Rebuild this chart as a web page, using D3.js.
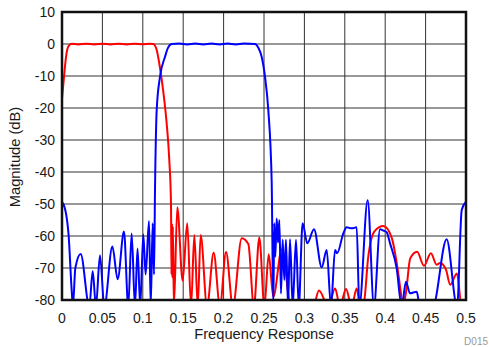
<!DOCTYPE html>
<html>
<head>
<meta charset="utf-8">
<script src="https://cdn.jsdelivr.net/npm/d3@7"></script>
<style>
  body { margin: 0; background: #fff; }
  text { font-family: "Liberation Sans", Arial, sans-serif; }
</style>
</head>
<body>
<script>
// tick values
const xTicks = [0, 0.05, 0.1, 0.15, 0.2, 0.25, 0.3, 0.35, 0.4, 0.45, 0.5];
const yTicks = [10, 0, -10, -20, -30, -40, -50, -60, -70, -80];

// red trace (low band), [frequency, dB]; nulls below the axis read as -82
const lowBand = [
  [0, -17], [0.0025, -10.2], [0.005, -4], [0.0078, -0.8], [0.012, 0.1],
  [0.02, -0.15], [0.03, 0.1], [0.04, -0.15], [0.05, 0.1], [0.06, -0.15],
  [0.07, 0.1], [0.08, -0.15], [0.09, 0.1], [0.1, -0.1], [0.108, 0.1],
  [0.113, 0], [0.1172, -1.9], [0.1213, -7.5], [0.1254, -15], [0.1296, -25],
  [0.1328, -36.3], [0.1349, -50], [0.1355, -72], [0.136, -56], [0.1366, -73],
  [0.1372, -57], [0.1385, -82], [0.1427, -51], [0.1493, -74], [0.155, -56],
  [0.1597, -82], [0.1638, -59.7], [0.168, -82], [0.1716, -59.7], [0.1795, -82],
  [0.1877, -65.2], [0.1955, -82], [0.203, -65], [0.2115, -82], [0.2224, -60.7],
  [0.2306, -62.5], [0.2375, -82], [0.2442, -60.5], [0.2505, -82], [0.2558, -65.7],
  [0.2615, -79], [0.272, -64.2], [0.2835, -82], [0.311, -82], [0.318, -77],
  [0.3296, -82], [0.338, -76.4], [0.344, -82], [0.3515, -76.6], [0.3585, -82],
  [0.3647, -76.4], [0.369, -82], [0.3735, -81], [0.379, -66.5], [0.3865, -58.6],
  [0.3977, -56.9], [0.408, -60.5], [0.414, -68], [0.4195, -78], [0.4215, -82],
  [0.4255, -78], [0.431, -67], [0.4395, -64.9], [0.448, -69.3], [0.4565, -65.4],
  [0.4637, -69], [0.468, -68.4], [0.4752, -70.5], [0.4805, -75.2], [0.4887, -71.7],
  [0.4947, -82], [0.5, -82]
];

// blue trace (high band), [frequency, dB]
const highBand = [
  [0, -49.5], [0.0017, -50], [0.008, -59.2], [0.012, -77], [0.0135, -82],
  [0.0165, -70], [0.0231, -65.6], [0.0338, -82], [0.038, -71], [0.042, -82],
  [0.047, -66], [0.0524, -82], [0.0623, -63.3], [0.0689, -73.5], [0.0767, -58.6],
  [0.082, -82], [0.0862, -59.2], [0.0903, -82], [0.0935, -63.9], [0.0968, -82],
  [0.1006, -59.5], [0.1035, -72], [0.1077, -55.3], [0.1098, -82], [0.1122, -56],
  [0.1139, -72], [0.1151, -45.6], [0.1172, -20.6], [0.1213, -10.2], [0.1275, -4],
  [0.131, -1.3], [0.1358, 0], [0.145, 0.15], [0.155, -0.15], [0.165, 0.15],
  [0.175, -0.15], [0.185, 0.15], [0.195, -0.15], [0.205, 0.15], [0.215, -0.15],
  [0.225, 0.15], [0.2389, 0], [0.243, -1.2], [0.2471, -4], [0.2512, -10.2],
  [0.2553, -20.6], [0.2595, -43], [0.2615, -82], [0.2627, -56], [0.264, -66.5],
  [0.2657, -54.5], [0.2673, -62], [0.269, -55], [0.271, -78], [0.2731, -61.2],
  [0.2751, -73.7], [0.2772, -61.2], [0.2797, -82], [0.2822, -61], [0.2855, -82],
  [0.2896, -61.2], [0.293, -82], [0.2978, -56], [0.3036, -62.3], [0.3119, -57.9],
  [0.3214, -69.8], [0.3276, -64.4], [0.3329, -82], [0.3379, -64.4], [0.3405, -65.4],
  [0.3482, -59.2], [0.3523, -57.3], [0.3585, -57.6], [0.3647, -57.3], [0.368, -82],
  [0.3783, -48.8], [0.3861, -82], [0.3936, -57.9], [0.3977, -58.3], [0.4018, -58.8],
  [0.406, -62.3], [0.4142, -70.1], [0.4204, -82], [0.4257, -74.3], [0.4307, -77.9],
  [0.439, -77.4], [0.443, -82], [0.459, -82], [0.476, -61], [0.489, -82],
  [0.4947, -51.9], [0.5, -49.3]
];

const width = 489, height = 347;
const plotL = 62, plotR = 466, plotT = 12, plotB = 300;

const x = d3.scaleLinear().domain([0, 0.5]).range([plotL, plotR]);
const y = d3.scaleLinear().domain([-80, 10]).range([plotB, plotT]);

const svg = d3.select("body").append("svg")
    .attr("width", width)
    .attr("height", height);

svg.append("clipPath").attr("id", "plot")
  .append("rect")
    .attr("x", plotL).attr("y", plotT)
    .attr("width", plotR - plotL).attr("height", plotB - plotT);

// grid
svg.append("g")
  .selectAll("line")
  .data(xTicks)
  .join("line")
    .attr("x1", d => x(d)).attr("x2", d => x(d))
    .attr("y1", plotT).attr("y2", plotB)
    .style("stroke", "#333").style("stroke-width", 1);

svg.append("g")
  .selectAll("line")
  .data(yTicks)
  .join("line")
    .attr("x1", plotL).attr("x2", plotR)
    .attr("y1", d => y(d)).attr("y2", d => y(d))
    .style("stroke", "#333").style("stroke-width", 1);

let lineFn = d3.line()
    .x(d => x(d[0]))
    .y(d => y(d[1]))
    .curve(d3.curveMonotoneX);

const traces = svg.append("g").attr("clip-path", "url(#plot)");
traces.append("path")
    .style("fill", "none")
    .style("stroke", "#ff0000")
    .style("stroke-width", 2)
    .attr("d", lineFn(lowBand));
traces.append("path")
    .style("fill", "none")
    .style("stroke", "#0000ff")
    .style("stroke-width", 2)
    .attr("d", lineFn(highBand));

// frame
svg.append("rect")
    .attr("x", plotL).attr("y", plotT)
    .attr("width", plotR - plotL).attr("height", plotB - plotT)
    .style("fill", "none")
    .style("stroke", "#111")
    .style("stroke-width", 2.5);

// tick labels
svg.append("g")
  .selectAll("text")
  .data(xTicks)
  .join("text")
    .attr("x", d => x(d))
    .attr("y", 323)
    .attr("text-anchor", "middle")
    .style("font-size", "14px")
    .style("fill", "#1a1a1a")
    .text(d => d);

svg.append("g")
  .selectAll("text")
  .data(yTicks)
  .join("text")
    .attr("x", 55)
    .attr("y", d => y(d) + 5)
    .attr("text-anchor", "end")
    .style("font-size", "14px")
    .style("fill", "#1a1a1a")
    .text(d => d);

// titles
svg.append("text")
    .attr("x", 264).attr("y", 339)
    .attr("text-anchor", "middle")
    .style("font-size", "14.7px")
    .style("fill", "#1a1a1a")
    .text("Frequency Response");

svg.append("text")
    .attr("transform", "translate(20,157) rotate(-90)")
    .attr("text-anchor", "middle")
    .style("font-size", "14.7px")
    .style("fill", "#1a1a1a")
    .text("Magnitude (dB)");

svg.append("text")
    .attr("x", 488).attr("y", 345)
    .attr("text-anchor", "end")
    .style("font-size", "10px")
    .style("fill", "#999")
    .text("D015");
</script>
</body>
</html>
